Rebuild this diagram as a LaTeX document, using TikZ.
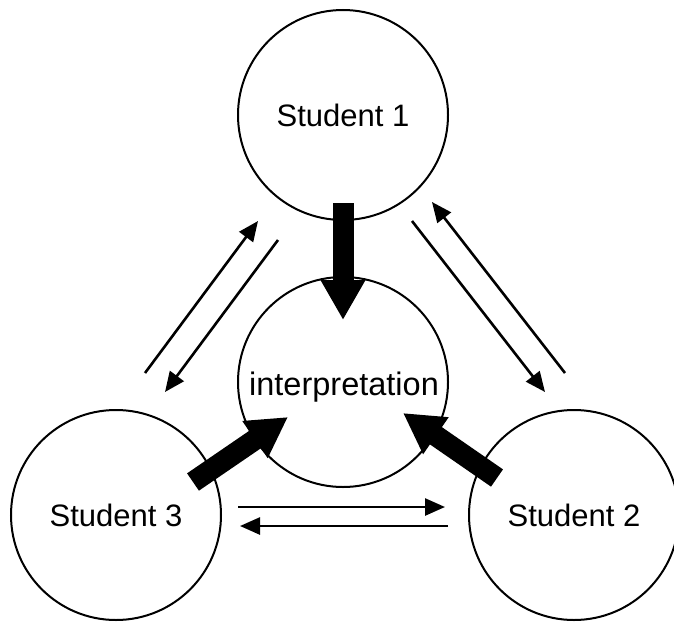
\documentclass[tikz,border=0pt]{standalone}
\usepackage{fontspec}
\setmainfont{Liberation Sans}
\usetikzlibrary{arrows.meta}
\begin{document}
\begin{tikzpicture}[x=1pt,y=-1pt,
  circ/.style={draw,circle,line width=2pt,minimum size=210pt,inner sep=0pt,font=\fontsize{31}{34}\selectfont},
  thick arrow/.style={line width=21pt,-{Triangle[width=42pt,length=40pt]}},
  thin arrow/.style={line width=2.6pt,-{Triangle[width=17pt,length=20pt]}}]
\useasboundingbox (0,0) rectangle (674,621);
\fill[white] (0,0) rectangle (674,621);
\node[circ] (s1) at (343,115) {Student 1};
\node[circ] (in) at (343,382) {};
\node[font=\fontsize{32.5}{35}\selectfont,inner sep=0pt] (intext) at (344,387) {interpretation};
\node[circ] (s3) at (116,515) {Student 3};
\node[circ] (s2) at (574,515) {Student 2};
% thick arrows
\coordinate (t1a) at (343,203); \coordinate (t1b) at (343,320);
\coordinate (t3a) at (193,482); \coordinate (t3b) at (288,417);
\coordinate (t2a) at (497,478); \coordinate (t2b) at (403,413);
\draw[thick arrow] (t1a) -- (t1b);
\draw[thick arrow] (t3a) -- (t3b);
\draw[thick arrow] (t2a) -- (t2b);
% thin arrows
\coordinate (a1) at (145,373); \coordinate (b1) at (258,221);
\coordinate (a2) at (278,240); \coordinate (b2) at (165,392);
\coordinate (a3) at (565,373); \coordinate (b3) at (432,202);
\coordinate (a4) at (412,221); \coordinate (b4) at (545,392);
\coordinate (a5) at (238,507); \coordinate (b5) at (445,507);
\coordinate (a6) at (448,526); \coordinate (b6) at (240,526);
\draw[thin arrow] (a1) -- (b1);
\draw[thin arrow] (a2) -- (b2);
\draw[thin arrow] (a3) -- (b3);
\draw[thin arrow] (a4) -- (b4);
\draw[thin arrow] (a5) -- (b5);
\draw[thin arrow] (a6) -- (b6);
\end{tikzpicture}
\end{document}
